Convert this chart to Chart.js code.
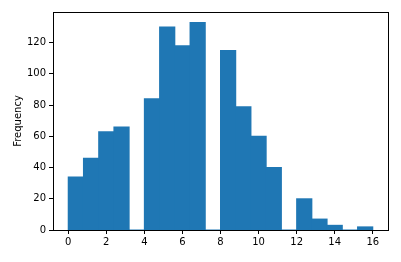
<!DOCTYPE html>
<html>
<head>
<meta charset="utf-8">
<script src="https://cdn.jsdelivr.net/npm/chart.js@4/dist/chart.umd.min.js"></script>
<style>
  html, body { margin: 0; padding: 0; background: #fff; }
  #wrap { width: 401px; height: 262px; }
</style>
</head>
<body>
<div id="wrap"><canvas id="grafico" width="401" height="262"></canvas></div>
<script>
// histogram: 20 bins between 0 and 16
const binStart = 0;
const binWidth = 0.8;
const counts = [34, 46, 63, 66, 0, 84, 130, 118, 133, 0, 115, 79, 60, 40, 0, 20, 7, 3, 0, 2];
const xTicks = [0, 2, 4, 6, 8, 10, 12, 14, 16];
const yTicks = [0, 20, 40, 60, 80, 100, 120];

const pontos = counts.map((c, i) => ({ x: binStart + binWidth * (i + 0.5), y: c }));

// draws the top and right spines too
const moldura = {
    id: 'moldura',
    afterDraw(chart) {
        const { ctx, chartArea: a } = chart;
        ctx.save();
        ctx.strokeStyle = '#000';
        ctx.lineWidth = 1;
        ctx.strokeRect(Math.round(a.left) + 0.5, Math.round(a.top) + 0.5,
            Math.round(a.right - a.left), Math.round(a.bottom - a.top));
        ctx.restore();
    }
};

Chart.defaults.font.family = 'DejaVu Sans';
Chart.defaults.font.size = 10;
Chart.defaults.color = '#000';

const config = {
    type: 'bar',
    data: {
        datasets: [{
            label: 'Frequency',
            data: pontos,
            backgroundColor: '#1f77b4',
            borderWidth: 0,
            inflateAmount: 0.5,
            barPercentage: 1,
            categoryPercentage: 1,
            grouped: false
        }]
    },
    options: {
        responsive: false,
        animation: false,
        layout: { padding: { left: 0, top: 12, right: 13, bottom: 0 } },
        plugins: { legend: { display: false }, tooltip: { enabled: false } },
        scales: {
            x: {
                type: 'linear',
                min: -0.8,
                max: 16.8,
                offset: false,
                afterBuildTicks: (axis) => { axis.ticks = xTicks.map(v => ({ value: v })); },
                afterFit: (axis) => { axis.height = 32; },
                grid: { offset: false, drawOnChartArea: false, tickLength: 4, color: '#000' },
                border: { color: '#000' },
                ticks: { padding: 2, maxRotation: 0 }
            },
            y: {
                min: 0,
                max: 139.65,
                afterBuildTicks: (axis) => { axis.ticks = yTicks.map(v => ({ value: v })); },
                afterFit: (axis) => { axis.width = 53; },
                grid: { drawOnChartArea: false, tickLength: 4, color: '#000' },
                border: { color: '#000' },
                ticks: { padding: 3 },
                title: { display: true, text: 'Frequency', padding: { top: 12, bottom: 0 } }
            }
        }
    },
    plugins: [moldura]
};

const grafico = new Chart(document.getElementById('grafico'), config);
</script>
</body>
</html>
